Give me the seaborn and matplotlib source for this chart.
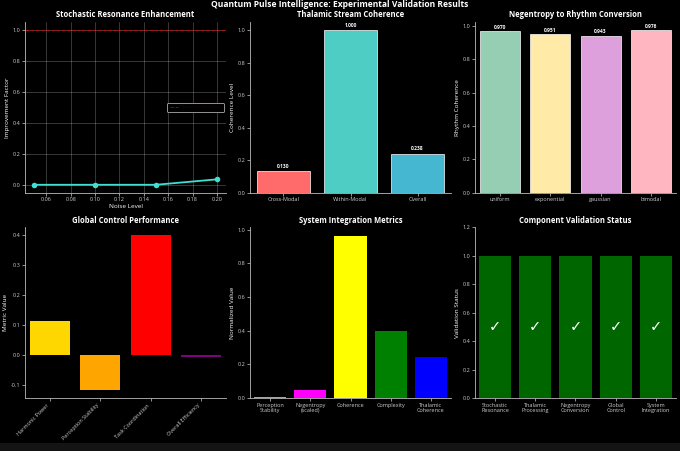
import matplotlib
matplotlib.use("Agg")
import matplotlib.pyplot as plt
import seaborn as sns
import pandas as pd
from matplotlib.patches import Rectangle

# ---------------- data ----------------
noise_levels = [0.05, 0.10, 0.15, 0.20]
improvement = [0.0, 0.0, 0.0, 0.035]
baseline_level = 1.0

thal_labels = ["Cross-Modal", "Within-Modal", "Overall"]
thal_values = [0.130, 1.000, 0.238]
thal_colors = ["#FF6B6B", "#4ECDC4", "#45B7D1"]

neg_labels = ["uniform", "exponential", "gaussian", "bimodal"]
neg_values = [0.970, 0.951, 0.943, 0.976]
neg_colors = ["#96CEB4", "#FFEAA7", "#DDA0DD", "#FFB6C1"]

gc_labels = ["Harmonic Power", "Perception Stability", "Task Coordination", "Overall Efficiency"]
gc_values = [0.115, -0.118, 0.400, -0.007]
gc_colors = ["gold", "orange", "red", "purple"]

si_labels = ["Perception\nStability", "Negentropy\n(scaled)", "Coherence", "Complexity", "Thalamic\nCoherence"]
si_values = [0.005, 0.045, 0.965, 0.400, 0.245]
si_colors = ["#4ECDC4", "magenta", "yellow", "green", "blue"]

val_labels = ["Stochastic\nResonance", "Thalamic\nProcessing", "Negentropy\nConversion", "Global\nControl", "System\nIntegration"]
val_values = [1, 1, 1, 1, 1]
val_marks = ["✓", "✓", "✓", "✓", "✓"]

# ---------------- style ----------------
sns.set_theme(style="ticks", rc={
    "figure.facecolor": "black",
    "axes.facecolor": "black",
    "axes.edgecolor": "#bbbbbb",
    "axes.labelcolor": "white",
    "text.color": "white",
    "xtick.color": "#cccccc",
    "ytick.color": "#cccccc",
    "axes.linewidth": 0.6,
    "xtick.major.width": 0.5,
    "ytick.major.width": 0.5,
    "xtick.major.size": 2,
    "ytick.major.size": 2,
    "xtick.major.pad": 1.5,
    "ytick.major.pad": 1.5,
    "axes.unicode_minus": False,
})
plt.rcParams["font.family"] = ["Open Sans", "DejaVu Sans"]

TICK = 4.0
LABEL = 4.6
TITLE = 5.5

fig, axes = plt.subplots(2, 3, figsize=(6.8, 4.51), dpi=100)
fig.subplots_adjust(left=25/680, right=676/680, top=1-22/451, bottom=1-398/451,
                    wspace=0.119, hspace=0.205)

def finish(ax, title, ylabel, xlabel=None):
    ax.set_title(title, fontsize=TITLE, fontweight="bold", color="white", pad=3.5)
    ax.set_ylabel(ylabel, fontsize=LABEL, labelpad=2)
    ax.set_xlabel(xlabel if xlabel else "", fontsize=LABEL, labelpad=1)
    ax.tick_params(labelsize=TICK)
    sns.despine(ax=ax)

def bar_panel(ax, labels, values, colors, edge=True, **kw):
    df = pd.DataFrame({"cat": labels, "val": values})
    sns.barplot(data=df, x="cat", y="val", hue="cat", palette=colors, ax=ax,
                legend=False, edgecolor="white" if edge else "none",
                linewidth=0.5 if edge else 0, saturation=1, **kw)

# 1. Stochastic resonance
ax = axes[0, 0]
sr = pd.DataFrame({"noise": noise_levels, "imp": improvement})
sns.lineplot(data=sr, x="noise", y="imp", ax=ax, color="#40E0D0", marker="o",
             markersize=4, linewidth=1.3, markeredgewidth=0)
ax.axhline(baseline_level, color="red", linestyle="--", linewidth=0.7, alpha=0.6,
           label="Baseline (No Noise)")
ax.grid(True, color="white", alpha=0.3, linewidth=0.5)
leg = ax.legend(loc="center right", fontsize=3.2, facecolor="black", edgecolor="#aaaaaa",
                framealpha=1, handlelength=2, borderpad=0.5)
for t in leg.get_texts():
    t.set_color("#1a0505")
leg.get_frame().set_linewidth(0.6)
finish(ax, "Stochastic Resonance Enhancement", "Improvement Factor", "Noise Level")

# 2. Thalamic
ax = axes[0, 1]
bar_panel(ax, thal_labels, thal_values, thal_colors)
for i, v in enumerate(thal_values):
    ax.text(i, v + 0.015, f"{v:.3f}", ha="center", va="bottom", fontsize=3.5,
            fontweight="bold", color="white")
finish(ax, "Thalamic Stream Coherence", "Coherence Level")

# 3. Negentropy
ax = axes[0, 2]
bar_panel(ax, neg_labels, neg_values, neg_colors)
for i, v in enumerate(neg_values):
    ax.text(i, v + 0.008, f"{v:.3f}", ha="center", va="bottom", fontsize=3.5,
            fontweight="bold", color="white")
finish(ax, "Negentropy to Rhythm Conversion", "Rhythm Coherence")

# 4. Global control
ax = axes[1, 0]
bar_panel(ax, gc_labels, gc_values, gc_colors, edge=False)
finish(ax, "Global Control Performance", "Metric Value")
ax.set_xticks(range(len(gc_labels)))
ax.set_xticklabels(gc_labels, rotation=45, ha="right", fontsize=TICK)

# 5. System integration
ax = axes[1, 1]
bar_panel(ax, si_labels, si_values, si_colors, edge=False)
finish(ax, "System Integration Metrics", "Normalized Value")
for lab in ax.get_xticklabels():
    lab.set_linespacing(0.95)

# 6. Validation
ax = axes[1, 2]
df = pd.DataFrame({"cat": val_labels, "val": val_values})
sns.barplot(data=df, x="cat", y="val", color="green", alpha=0.8, ax=ax, saturation=1,
            edgecolor="none", linewidth=0)
for i, m in enumerate(val_marks):
    ax.text(i, 0.5, m, ha="center", va="center", fontsize=10.5, fontweight="bold",
            color="white", family=["DejaVu Sans"])
ax.set_ylim(0, 1.2)
finish(ax, "Component Validation Status", "Validation Status")
for lab in ax.get_xticklabels():
    lab.set_linespacing(0.95)

fig.text(0.5, 0.991, "Quantum Pulse Intelligence: Experimental Validation Results",
         ha="center", va="center", fontsize=6.1, fontweight="bold", color="white")

# bottom strip
fig.patches.append(Rectangle((0, 0), 1, 8/451, transform=fig.transFigure,
                             facecolor="#141414", edgecolor="none", zorder=-1))

fig.savefig("out.png", dpi=100, facecolor="black")
